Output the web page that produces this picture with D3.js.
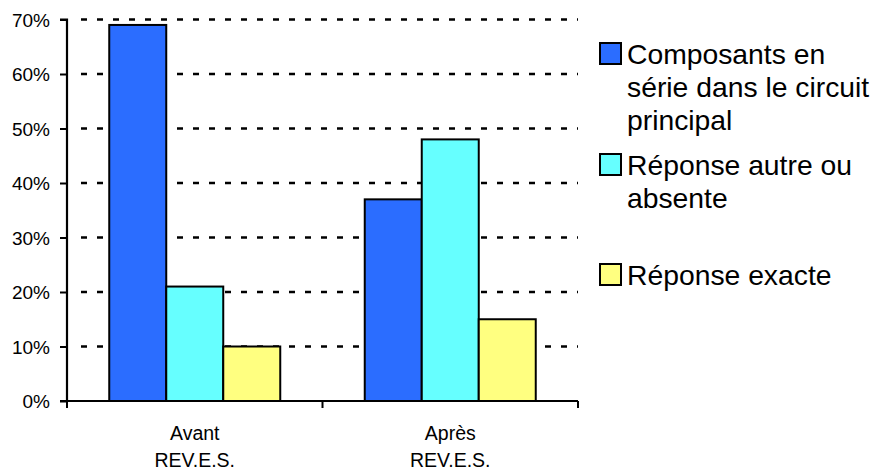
<!DOCTYPE html>
<html><head><meta charset="utf-8">
<script src="https://cdn.jsdelivr.net/npm/d3@7"></script>
<style>body{margin:0;background:#fff}svg{display:block}text{font-family:Arial,"Liberation Sans",sans-serif;fill:#000}</style>
</head><body>
<svg id="c" width="878" height="471"></svg>
<script>
const categories = [["Avant","REV.E.S."],["Après","REV.E.S."]];
const seriesNames = [
  ["Composants en","série dans le circuit","principal"],
  ["Réponse autre ou","absente"],
  ["Réponse exacte"]
];
const seriesColors = ["#2B6DFF","#66FFFF","#FFFF80"];
const valuesComposants = [0.69, 0.37];
const valuesAutre = [0.21, 0.48];
const valuesExacte = [0.10, 0.15];
const yTicks = [0,0.1,0.2,0.3,0.4,0.5,0.6,0.7];
const series = [valuesComposants, valuesAutre, valuesExacte];

(function(){
const svg = d3.select("#c");
const mLeft = 67, mRight = 578, mTop = 19.5, mBottom = 401;
const catKeys = categories.map((c,i)=>i);
const x0 = d3.scaleBand().domain(catKeys).range([mLeft,mRight]).paddingInner(0.3307).paddingOuter(0.3307/2);
const xOuter = d3.scaleBand().domain(catKeys).range([mLeft,mRight]);
const x1 = d3.scaleBand().domain(d3.range(series.length)).range([0,x0.bandwidth()]);
const y = d3.scaleLinear().domain([0,0.7]).range([mBottom,mTop]);

// gridlines
svg.append("g").selectAll("line").data(yTicks.filter(t=>t>0)).join("line")
  .attr("x1",mLeft+4).attr("x2",mRight).attr("y1",d=>y(d)).attr("y2",d=>y(d))
  .attr("stroke","#000").attr("stroke-width",2.5).attr("stroke-dasharray","6,10").attr("stroke-dashoffset",6);

// bars
const g = svg.append("g");
series.forEach((vals,si)=>{
  g.selectAll(".b"+si).data(vals).join("rect").attr("class","b"+si)
    .attr("x",(d,i)=>x0(i)+x1(si)).attr("width",x1.bandwidth())
    .attr("y",d=>y(d)).attr("height",d=>y(0)-y(d))
    .attr("fill",seriesColors[si]).attr("stroke","#000").attr("stroke-width",2);
});

// y axis
const yAxis = d3.axisLeft(y).tickValues(yTicks).tickFormat(d3.format(".0%")).tickSize(7).tickPadding(10);
const ya = svg.append("g").attr("transform",`translate(${mLeft},0)`).call(yAxis);
ya.select(".domain").attr("stroke-width",2.2).attr("d",`M-7,${mTop}H0V${mBottom}H-7`);
ya.selectAll(".tick line").attr("stroke-width",2);
ya.selectAll(".tick text").attr("font-size",19).attr("font-family","Arial, 'Liberation Sans', sans-serif").attr("dy","0.36em");

// x axis line + ticks at boundaries
const xa = svg.append("g");
xa.append("line").attr("x1",mLeft).attr("x2",mRight).attr("y1",mBottom).attr("y2",mBottom).attr("stroke","#000").attr("stroke-width",2.2);
const bounds = catKeys.map(i=>xOuter(i)).concat([mRight]);
xa.selectAll(".xt").data(bounds).join("line").attr("class","xt")
  .attr("x1",d=>d).attr("x2",d=>d).attr("y1",mBottom).attr("y2",mBottom+7).attr("stroke","#000").attr("stroke-width",2);
xa.selectAll(".xl").data(categories).join("text").attr("class","xl")
  .attr("text-anchor","middle").attr("font-size",19.5)
  .attr("transform",(d,i)=>`translate(${xOuter(i)+xOuter.bandwidth()/2},0)`)
  .selectAll("tspan").data(d=>d).join("tspan")
  .attr("x",0).attr("y",(d,j)=>440+j*27).text(d=>d);

// legend
const legendTops = [43,154,264];
const lg = svg.append("g");
seriesNames.forEach((lines,si)=>{
  const t = legendTops[si];
  lg.append("rect").attr("x",600).attr("y",t).attr("width",21).attr("height",21)
    .attr("fill",seriesColors[si]).attr("stroke","#000").attr("stroke-width",2);
  const tx = lg.append("text").attr("font-size",28.3);
  tx.selectAll("tspan").data(lines).join("tspan").attr("x",627).attr("y",(d,j)=>t+21+j*33).text(d=>d);
});
})();
</script>
</body></html>
